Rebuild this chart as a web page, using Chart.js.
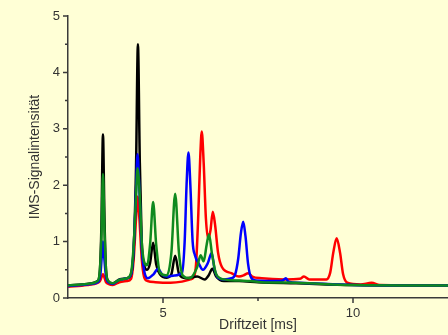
<!DOCTYPE html>
<html>
<head>
<meta charset="utf-8">
<script src="https://cdn.jsdelivr.net/npm/chart.js@4.4.1/dist/chart.umd.min.js"></script>
<style>
  html, body { margin: 0; padding: 0; background: #FFFFD6; }
  #wrap { width: 448px; height: 335px; }
</style>
</head>
<body>
<div id="wrap"><canvas id="imsChart"></canvas></div>
<script>
// Driftzeit [ms] und Signalintensität, je Messreihe
const blackTimes  = [2.5, 3.0, 3.28, 3.34, 3.38, 3.42, 3.46, 3.5, 3.56, 3.68, 3.85, 4.05, 4.16, 4.23, 4.29, 4.34, 4.39, 4.44, 4.5, 4.58, 4.66, 4.74, 4.82, 4.92, 5.1, 5.22, 5.32, 5.42, 5.6, 5.9, 6.1, 6.2, 6.3, 6.4, 6.6, 7.0, 7.5, 8.5, 10, 12.5];
const blackValues = [0.22, 0.25, 0.3, 0.5, 1.3, 2.9, 1.4, 0.5, 0.3, 0.26, 0.33, 0.35, 0.42, 0.9, 2.3, 4.5, 2.4, 1.0, 0.6, 0.5, 0.62, 0.98, 0.6, 0.42, 0.36, 0.42, 0.75, 0.43, 0.35, 0.38, 0.33, 0.4, 0.52, 0.38, 0.3, 0.3, 0.28, 0.26, 0.23, 0.22];

const greenTimes  = [2.5, 3.0, 3.28, 3.34, 3.38, 3.42, 3.46, 3.5, 3.56, 3.68, 3.85, 4.05, 4.16, 4.23, 4.29, 4.33, 4.39, 4.44, 4.5, 4.58, 4.66, 4.74, 4.82, 4.92, 5.1, 5.22, 5.32, 5.42, 5.52, 5.7, 5.9, 5.99, 6.07, 6.15, 6.21, 6.29, 6.4, 6.6, 7.0, 7.3, 7.6, 8.5, 10, 12.5];
const greenValues = [0.22, 0.25, 0.3, 0.5, 1.1, 2.2, 1.2, 0.5, 0.3, 0.26, 0.32, 0.35, 0.45, 0.95, 1.8, 2.3, 1.8, 1.0, 0.65, 0.58, 0.95, 1.7, 0.95, 0.45, 0.4, 0.8, 1.85, 0.8, 0.4, 0.35, 0.55, 0.76, 0.65, 0.95, 1.13, 0.78, 0.42, 0.33, 0.31, 0.3, 0.28, 0.27, 0.23, 0.22];

const blueTimes  = [2.5, 3.0, 3.28, 3.35, 3.39, 3.42, 3.45, 3.5, 3.56, 3.68, 3.85, 4.05, 4.16, 4.23, 4.29, 4.33, 4.38, 4.44, 4.5, 4.6, 4.75, 4.87, 4.97, 5.1, 5.3, 5.5, 5.57, 5.62, 5.67, 5.72, 5.78, 5.84, 5.95, 6.05, 6.18, 6.28, 6.36, 6.45, 6.6, 6.8, 6.9, 6.98, 7.05, 7.11, 7.17, 7.24, 7.32, 7.45, 8.0, 8.15, 8.23, 8.3, 8.6, 10, 12.5];
const blueValues = [0.21, 0.24, 0.28, 0.4, 0.75, 1.0, 0.75, 0.38, 0.28, 0.25, 0.32, 0.35, 0.42, 0.9, 1.9, 2.55, 1.9, 0.9, 0.5, 0.35, 0.42, 0.52, 0.42, 0.38, 0.4, 0.45, 1.0, 2.0, 2.58, 2.0, 1.0, 0.76, 0.6, 0.5, 0.62, 0.8, 0.5, 0.36, 0.33, 0.35, 0.42, 0.7, 1.15, 1.35, 1.1, 0.6, 0.36, 0.31, 0.3, 0.31, 0.35, 0.29, 0.27, 0.23, 0.22];

const redTimes  = [2.5, 3.0, 3.28, 3.34, 3.39, 3.42, 3.45, 3.5, 3.56, 3.68, 3.85, 4.05, 4.16, 4.23, 4.29, 4.33, 4.38, 4.44, 4.5, 4.6, 4.8, 5.2, 5.5, 5.72, 5.8, 5.87, 5.93, 5.98, 6.02, 6.07, 6.13, 6.19, 6.25, 6.31, 6.37, 6.45, 6.55, 6.8, 7.0, 7.12, 7.24, 7.35, 7.6, 8.2, 8.6, 8.71, 8.85, 9.3, 9.4, 9.48, 9.57, 9.66, 9.74, 9.85, 10.2, 10.49, 10.7, 12.5];
const redValues = [0.2, 0.23, 0.27, 0.3, 0.38, 0.42, 0.38, 0.28, 0.25, 0.23, 0.28, 0.3, 0.34, 0.7, 1.4, 1.8, 1.4, 0.7, 0.38, 0.3, 0.28, 0.27, 0.29, 0.33, 0.36, 0.6, 1.5, 2.5, 2.95, 2.4, 1.4, 1.05, 1.2, 1.53, 1.3, 0.8, 0.55, 0.44, 0.38, 0.4, 0.44, 0.38, 0.35, 0.33, 0.34, 0.38, 0.33, 0.33, 0.45, 0.8, 1.06, 0.8, 0.42, 0.27, 0.24, 0.27, 0.23, 0.22];

const xMajor = [5, 10];
const xMinor = [7.5];
const yMajor = [0, 1, 2, 3, 4, 5];
const yMinor = [0.5, 1.5, 2.5, 3.5, 4.5];

function toPoints(times, values) {
    return times.map((t, i) => ({ x: t, y: values[i] }));
}

const axisColor = '#3a3a3a';

const backgroundPlugin = {
    id: 'bg',
    beforeDraw(chart) {
        const ctx = chart.ctx;
        ctx.save();
        ctx.fillStyle = '#FFFFD6';
        ctx.fillRect(0, 0, chart.width, chart.height);
        ctx.restore();
    }
};

const tickPlugin = {
    id: 'tickMarks',
    afterDraw(chart) {
        const ctx = chart.ctx;
        const xs = chart.scales.x, ys = chart.scales.y;
        const area = chart.chartArea;
        ctx.save();
        ctx.strokeStyle = axisColor;
        ctx.lineWidth = 1.5;
        ctx.beginPath();
        xMajor.forEach(v => { let p = xs.getPixelForValue(v); ctx.moveTo(p, area.bottom); ctx.lineTo(p, area.bottom + 5); });
        xMinor.forEach(v => { let p = xs.getPixelForValue(v); ctx.moveTo(p, area.bottom); ctx.lineTo(p, area.bottom + 3); });
        yMajor.forEach(v => { let p = ys.getPixelForValue(v); ctx.moveTo(area.left, p); ctx.lineTo(area.left - 5, p); });
        yMinor.forEach(v => { let p = ys.getPixelForValue(v); ctx.moveTo(area.left, p); ctx.lineTo(area.left - 3, p); });
        ctx.stroke();
        ctx.restore();
    }
};

function lineSet(label, times, values, color, order) {
    return {
        label: label,
        data: toPoints(times, values),
        borderColor: color,
        borderWidth: 2.5,
        pointRadius: 0,
        fill: false,
        cubicInterpolationMode: 'monotone',
        order: order
    };
}

let ctx = document.getElementById('imsChart').getContext('2d');
let myChart = new Chart(ctx, {
    type: 'line',
    data: {
        datasets: [
            lineSet('grün', greenTimes, greenValues, '#0f8a1e', 0),
            lineSet('blau', blueTimes, blueValues, '#0000ff', 1),
            lineSet('schwarz', blackTimes, blackValues, '#000000', 2),
            lineSet('rot', redTimes, redValues, '#ff0000', 3)
        ]
    },
    plugins: [backgroundPlugin, tickPlugin],
    options: {
        responsive: true,
        maintainAspectRatio: false,
        animation: false,
        layout: { padding: { top: 16, right: 0, left: 0, bottom: 0 } },
        plugins: { legend: { display: false }, tooltip: { enabled: false } },
        scales: {
            x: {
                type: 'linear',
                min: 2.5,
                max: 12.5,
                afterBuildTicks: s => { s.ticks = xMajor.map(v => ({ value: v })); },
                afterFit: s => { s.height = 37; },
                grid: { display: false, drawTicks: false },
                border: { display: true, color: axisColor, width: 1.5 },
                ticks: { padding: 8, color: '#333', font: { family: 'Liberation Sans', size: 13 } },
                title: {
                    display: true,
                    text: 'Driftzeit [ms]',
                    color: '#333',
                    font: { family: 'Liberation Sans', size: 14 },
                    padding: { top: 0, bottom: 1 }
                }
            },
            y: {
                min: 0,
                max: 5,
                afterBuildTicks: s => { s.ticks = yMajor.map(v => ({ value: v })); },
                afterFit: s => { s.width = 68; },
                grid: { display: false, drawTicks: false },
                border: { display: true, color: axisColor, width: 1.5 },
                ticks: { padding: 8, color: '#333', font: { family: 'Liberation Sans', size: 13 } },
                title: {
                    display: true,
                    text: 'IMS-Signalintensität',
                    color: '#333',
                    font: { family: 'Liberation Sans', size: 14 },
                    padding: { top: 27, bottom: 0 }
                }
            }
        }
    }
});
</script>
</body>
</html>
